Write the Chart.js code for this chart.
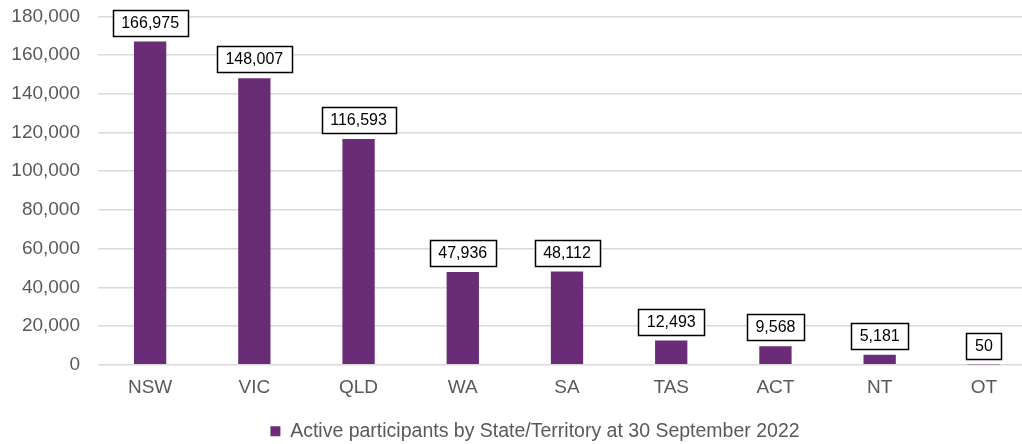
<!DOCTYPE html>
<html lang="en">
<head>
    <meta charset="UTF-8">
    <title>Active participants by State/Territory</title>
    <script src="https://cdn.jsdelivr.net/npm/chart.js"></script>
    <style>
        body {
            margin: 0;
            padding: 0;
            background: #ffffff;
            overflow: hidden;
            font-family: Arial, "Liberation Sans", sans-serif;
        }

        /* a little larger than the window so the plot reaches the edges like the original */
        .chart-box {
            position: relative;
            width: 1036px;
            height: 464px;
            margin-top: -13px;
        }
    </style>
</head>
<body>
    <div class="chart-box">
        <canvas id="stateChart"></canvas>
    </div>

    <script>
        // Values
        const states = ['NSW', 'VIC', 'QLD', 'WA', 'SA', 'TAS', 'ACT', 'NT', 'OT'];
        const participants = [166975, 148007, 116593, 47936, 48112, 12493, 9568, 5181, 50];
        const seriesName = 'Active participants by State/Territory at 30 September 2022';

        const purple = '#6B2C77';
        const grey = '#595959';
        const fontFamily = 'Arial, "Liberation Sans", sans-serif';

        // boxed value labels above each bar
        const boxLabels = {
            id: 'boxLabels',
            afterDatasetsDraw(chart) {
                const ctx = chart.ctx;
                const meta = chart.getDatasetMeta(0);
                ctx.save();
                ctx.font = '16px ' + fontFamily;
                ctx.textAlign = 'center';
                ctx.textBaseline = 'middle';
                meta.data.forEach((bar, i) => {
                    const text = participants[i].toLocaleString('en-US');
                    const w = Math.round(ctx.measureText(text).width + 17);
                    const h = 26;
                    const x = Math.round(bar.x - w / 2);
                    const y = Math.round(bar.y - 6 - h);
                    ctx.fillStyle = '#ffffff';
                    ctx.fillRect(x, y, w, h);
                    ctx.strokeStyle = '#000000';
                    ctx.lineWidth = 1.5;
                    ctx.strokeRect(x + 0.5, y + 0.5, w, h);
                    ctx.fillStyle = '#000000';
                    ctx.fillText(text, bar.x, y + h / 2 + 1);
                });
                ctx.restore();
            }
        };

        // nudge the legend to the right, it sits off-centre in the original
        const legendShift = {
            id: 'legendShift',
            afterLayout(chart) {
                chart.legend.left += 17;
                chart.legend.right += 17;
            }
        };

        const ctx = document.getElementById('stateChart').getContext('2d');
        new Chart(ctx, {
            type: 'bar',
            data: {
                labels: states,
                datasets: [{
                    label: seriesName,
                    data: participants,
                    backgroundColor: purple,
                    barPercentage: 0.62,
                    categoryPercentage: 0.5
                }]
            },
            options: {
                responsive: true,
                maintainAspectRatio: false,
                animation: false,
                layout: {
                    padding: { top: 0, left: 0, right: 0, bottom: 0 }
                },
                scales: {
                    x: {
                        grid: { display: false, drawTicks: false },
                        border: { display: false },
                        ticks: {
                            color: grey,
                            padding: 12,
                            font: { size: 19, family: fontFamily }
                        }
                    },
                    y: {
                        min: 0,
                        max: 180000,
                        afterFit(scale) { scale.width = 98; },
                        grid: { color: '#d9d9d9', lineWidth: 1.5, drawTicks: false },
                        border: { display: false },
                        ticks: {
                            stepSize: 20000,
                            color: grey,
                            padding: 18,
                            font: { size: 19, family: fontFamily },
                            callback: v => v.toLocaleString('en-US')
                        }
                    }
                },
                plugins: {
                    legend: {
                        position: 'bottom',
                        labels: {
                            color: grey,
                            boxWidth: 10,
                            boxHeight: 10,
                            padding: 10,
                            font: { size: 19.5, family: fontFamily }
                        }
                    },
                    tooltip: { enabled: false }
                }
            },
            plugins: [boxLabels, legendShift]
        });
    </script>
</body>
</html>
